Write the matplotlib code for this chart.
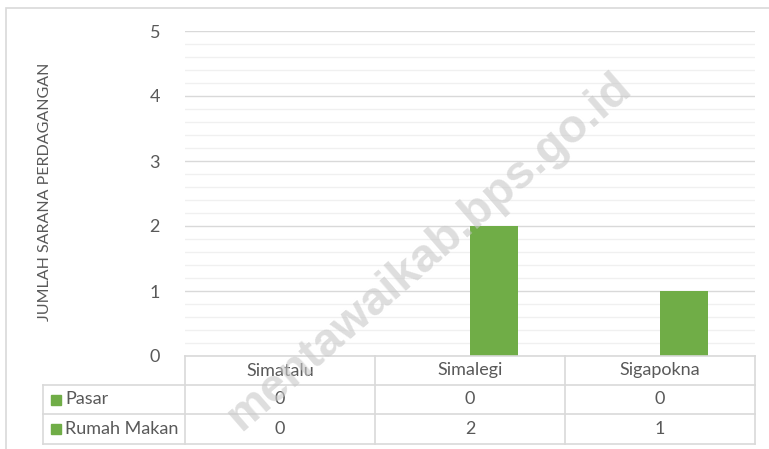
import matplotlib.pyplot as plt
from matplotlib.lines import Line2D
from matplotlib.patches import Rectangle


W, H = 769, 449

categories = ["Simatalu", "Simalegi", "Sigapokna"]
series_names = ["Pasar", "Rumah Makan"]
pasar = [0, 0, 0]
rumah_makan = [0, 2, 1]
y_ticks = [0, 1, 2, 3, 4, 5]

GREEN = "#70ad47"
TEXT = "#595959"
GRID = "#d9d9d9"
MINOR = "#f0f0f0"

plt.rcParams["font.family"] = ["Lato", "DejaVu Sans"]


def fx(px):
    return px / W


def fy(py):
    return 1 - py / H


fig = plt.figure(figsize=(W / 100, H / 100), dpi=100)

# outer chart frame
fig.add_artist(Rectangle((fx(6), fy(460)), fx(800), 460 / H - 8 / H,
                         transform=fig.transFigure, fill=False,
                         edgecolor=GRID, linewidth=1.2))

left, right, top, bottom = 185, 755, 31, 356
ax = fig.add_axes([fx(left), fy(bottom), fx(right - left), (bottom - top) / H])

x = range(len(categories))
width = 0.25
ax.bar([i - width / 2 for i in x], pasar, width, color=GREEN, zorder=3)
ax.bar([i + width / 2 for i in x], rumah_makan, width, color=GREEN, zorder=3)

ax.set_xlim(-0.5, len(categories) - 0.5)
ax.set_ylim(0, 5)
ax.set_yticks(y_ticks)
ax.set_yticks([v / 5 for v in range(26)], minor=True)
ax.tick_params(axis="y", which="both", length=0, pad=18, labelsize=13,
               labelcolor=TEXT)
ax.set_xticks([])
ax.grid(axis="y", which="major", color=GRID, linewidth=1.0, zorder=1)
ax.grid(axis="y", which="minor", color=MINOR, linewidth=1.0, zorder=0)
for s in ax.spines.values():
    s.set_visible(False)

fig.text(fx(45), fy(192), "JUMLAH SARANA PERDAGANGAN", rotation=90,
         ha="center", va="center", fontsize=11.5, color=TEXT)

# data table below the plot
rows_y = [356, 385, 414, 444]
cols_x = [185, 375, 565, 755]
lab_x = 43


def hline(x0, x1, y):
    fig.add_artist(Line2D([fx(x0), fx(x1)], [fy(y), fy(y)], color=GRID,
                          linewidth=1.2, transform=fig.transFigure))


def vline(xp, y0, y1):
    fig.add_artist(Line2D([fx(xp), fx(xp)], [fy(y0), fy(y1)], color=GRID,
                          linewidth=1.2, transform=fig.transFigure))


hline(cols_x[0], cols_x[-1], rows_y[0])
for yp in rows_y[1:]:
    hline(lab_x, cols_x[-1], yp)
for xp in cols_x:
    vline(xp, rows_y[0], rows_y[-1])
vline(lab_x, rows_y[1], rows_y[-1])

for j, cat in enumerate(categories):
    cx = (cols_x[j] + cols_x[j + 1]) / 2
    fig.text(fx(cx), fy((rows_y[0] + rows_y[1]) / 2), cat, ha="center",
             va="center", fontsize=13, color=TEXT)

for r, (name, vals) in enumerate(zip(series_names, [pasar, rumah_makan])):
    cy = (rows_y[r + 1] + rows_y[r + 2]) / 2
    fig.add_artist(Rectangle((fx(51), fy(cy + 5)), fx(10), 10 / H,
                             transform=fig.transFigure, color=GREEN))
    fig.text(fx(65), fy(cy), name, ha="left", va="center", fontsize=13,
             color=TEXT)
    for j, v in enumerate(vals):
        cx = (cols_x[j] + cols_x[j + 1]) / 2
        fig.text(fx(cx), fy(cy), str(v), ha="center", va="center",
                 fontsize=13, color=TEXT)

# watermark
fig.text(fx(430), fy(252), "mentawaikab.bps.go.id", rotation=41,
         ha="center", va="center", fontsize=34, fontweight="bold",
         family=["Liberation Sans", "DejaVu Sans"], color="#c8c8c8",
         alpha=0.6, zorder=10)

fig.savefig("out.png", dpi=100)
